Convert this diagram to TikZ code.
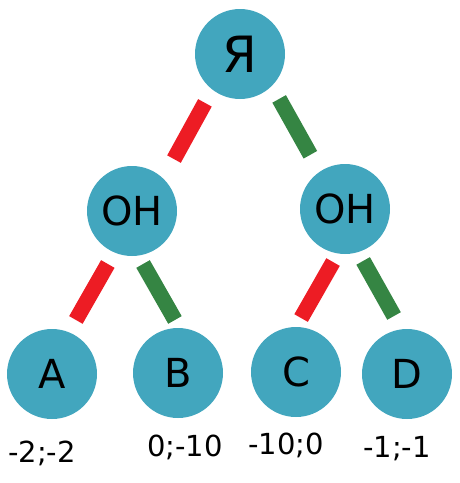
\documentclass[tikz,border=0pt]{standalone}
\usepackage{fontspec}
\setmainfont{DejaVu Sans}
\usetikzlibrary{positioning}
\definecolor{myteal}{RGB}{66,166,190}
\definecolor{myred}{RGB}{237,28,36}
\definecolor{mygreen}{RGB}{53,133,67}
\tikzset{
  player/.style={circle, fill=myteal, draw=none, inner sep=0pt,
    outer sep=0pt, minimum size=90pt, font=\fontsize{40}{48}\selectfont},
  rootplayer/.style={player, font=\fontsize{50}{60}\selectfont},
  payoff/.style={font=\fontsize{29}{35}\selectfont, inner sep=0pt},
  redbar/.style={color=myred, line width=15.5pt},
  greenbar/.style={color=mygreen, line width=15.5pt}
}
\begin{document}
\begin{tikzpicture}[x=1pt, y=-1pt]
  \useasboundingbox (0,0) rectangle (459,483);

  % Players
  \node[rootplayer] (root) at (240,54) {Я};
  \node[player] (lon) at (132,211) {ОН};
  \node[player] (ron) at (345,209) {ОН};

  % Outcomes
  \node[player] (A) at (52,374) {A};
  \node[player] (B) at (178,373) {B};
  \node[player] (C) at (296,372) {C};
  \node[player] (D) at (407,374) {D};

  % Payoffs
  \node[payoff] (pA) at (42,453) {-2;-2};
  \node[payoff] (pB) at (185,447) {0;-10};
  \node[payoff] (pC) at (286,445) {-10;0};
  \node[payoff] (pD) at (397,449) {-1;-1};

  % Moves
  \draw[redbar, shorten <=15.3pt, shorten >=22.3pt] (root.232) -- (lon.46);
  \draw[greenbar, shorten <=15pt, shorten >=19.4pt] (root.-45) -- (ron.124);
  \draw[redbar, shorten <=13.3pt, shorten >=14.2pt] (lon.247) -- (A.68);
  \draw[greenbar, shorten <=9.7pt, shorten >=9.3pt] (lon.-82) -- (B.88);
  \draw[redbar, shorten <=9.9pt, shorten >=10.3pt] (ron.-99) -- (C.90);
  \draw[greenbar, shorten <=10.2pt, shorten >=15.3pt] (ron.-73) -- (D.97);
\end{tikzpicture}
\end{document}
